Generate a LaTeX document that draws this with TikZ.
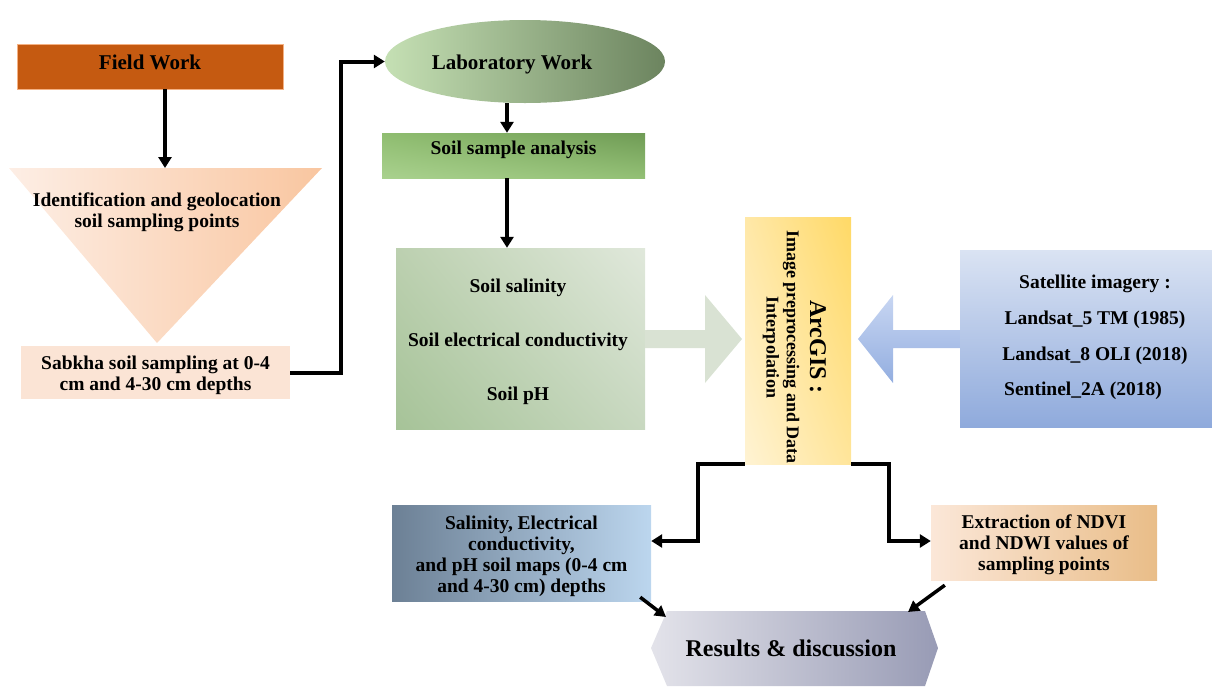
\documentclass[tikz,border=0pt]{standalone}
\usepackage{fontspec}
\setmainfont{Liberation Serif}
\usetikzlibrary{arrows.meta,shapes.geometric,calc,shadings}
\definecolor{fieldc}{HTML}{C55A11}
\definecolor{fieldb}{HTML}{F4B183}
\definecolor{triL}{HTML}{FDEEE5}
\definecolor{triR}{HTML}{F9C6A0}
\definecolor{sabc}{HTML}{FBE4D5}
\definecolor{labL}{HTML}{C5E0B4}
\definecolor{labR}{HTML}{6C845F}
\definecolor{ssaUL}{HTML}{8FBD70}
\definecolor{ssaUR}{HTML}{6F9B55}
\definecolor{ssaLL}{HTML}{A9D18E}
\definecolor{ssaLR}{HTML}{93C075}
\definecolor{bigUL}{HTML}{BCD0B0}
\definecolor{bigUR}{HTML}{E0E8DB}
\definecolor{bigLL}{HTML}{A6C398}
\definecolor{bigLR}{HTML}{C8D8C0}
\definecolor{arcUL}{HTML}{FFE8A8}
\definecolor{arcUR}{HTML}{FFD966}
\definecolor{arcLL}{HTML}{FFF3D3}
\definecolor{arcLR}{HTML}{FFE59A}
\definecolor{gshaft}{HTML}{D9E2D3}
\definecolor{blueT}{HTML}{C8D6F2}
\definecolor{blueB}{HTML}{93AEE0}
\definecolor{satT}{HTML}{DAE3F3}
\definecolor{satB}{HTML}{8FAADC}
\definecolor{salL}{HTML}{6C8095}
\definecolor{salR}{HTML}{BCD6EE}
\definecolor{extL}{HTML}{FBE7D8}
\definecolor{extR}{HTML}{E9BD88}
\definecolor{resL}{HTML}{E3E3EA}
\definecolor{resR}{HTML}{989BB5}
\begin{document}
\begin{tikzpicture}[x=1pt,y=-1pt,
  txt/.style={font=\fontsize{19.5}{21}\selectfont\bfseries, align=center},
  hdr/.style={font=\fontsize{21}{23}\selectfont\bfseries},
  boxn/.style={inner sep=0pt, minimum width=#1},
  arr/.style={line width=4pt, -{Triangle[length=11pt,width=13pt]}},
  arrs/.style={line width=3.5pt, -{Triangle[length=11pt,width=12pt]}}]
\useasboundingbox (0,0) rectangle (1212,686);

% Field work
\node[fill=fieldc, draw=fieldb, line width=0.6pt, boxn=266pt, minimum height=45pt] (field) at (150,66.5) {};
\node[hdr] (fieldt) at (150,62) {Field Work};

% Triangle
\shade[left color=triL, right color=triR] (9,168) -- (322,168) -- (157,343) -- cycle;
\node[txt] (ident) at (157,212) {Identification and geolocation\\soil sampling points};
\coordinate (tritop) at (165,168);
\draw[arr] (field.south -| tritop) -- (tritop);

% Sabkha
\node[fill=sabc, boxn=269pt, minimum height=53pt] (sab) at (155.5,372.5) {};
\node[txt] (sabt) at (155.5,375.5) {Sabkha soil sampling at 0-4\\cm and 4-30 cm depths};

% Lab work
\node[ellipse, boxn=280pt, minimum height=83pt, left color=labL, right color=labR] (lab) at (525,61.5) {};
\node[hdr] (labt) at (512,64.5) {Laboratory Work};
\draw[arr] (sab.east) -- ++(51,0) |- (lab.west);

% Soil sample analysis
\node[boxn=263pt, minimum height=45pt, upper left=ssaUL, upper right=ssaUR, lower left=ssaLL, lower right=ssaLR] (ssa) at (513.5,155.5) {};
\node[txt] (ssat) at (513.5,150) {Soil sample analysis};
\coordinate (c1) at (507,0);
\draw[arr] (lab.south -| c1) -- (ssa.north -| c1);

% Big box
\node[boxn=249pt, minimum height=181pt, upper left=bigUL, upper right=bigUR, lower left=bigLL, lower right=bigLR] (big) at (520.5,338.5) {};
\node[font=\fontsize{19.5}{54}\selectfont\bfseries, align=center] (bigt) at (518,341.5) {Soil salinity\\Soil electrical conductivity\\Soil pH};
\draw[arr] (ssa.south -| c1) -- (big.north -| c1);

% green block arrow
\fill[gshaft] (645,330) -- (705,330) -- (705,295) -- (742,339) -- (705,383) -- (705,348) -- (645,348) -- cycle;

% ArcGIS
\node[boxn=106pt, minimum height=247pt, upper left=arcUL, upper right=arcUR, lower left=arcLL, lower right=arcLR] (arc) at (798,340.5) {};
\node[rotate=-90, font=\fontsize{24}{26}\selectfont\bfseries] (arct1) at (818,347) {ArcGIS :};
\node[rotate=-90, font=\fontsize{18}{20}\selectfont\bfseries] (arct2) at (791,347) {Image preprocessing and Data};
\node[rotate=-90, font=\fontsize{18}{20}\selectfont\bfseries] (arct3) at (771,347) {Interpolation};

% blue block arrow
\shade[top color=blueT, bottom color=blueB] (960,330) -- (893,330) -- (893,295) -- (858,339) -- (893,383) -- (893,348) -- (960,348) -- cycle;

% Satellite
\node[boxn=252pt, minimum height=177pt, top color=satT, bottom color=satB] (sat) at (1086,338.5) {};
\node[txt, anchor=base] (s1) at (1095,288) {Satellite imagery :};
\node[txt, anchor=base] (s2) at (1095,324) {Landsat\_5 TM (1985)};
\node[txt, anchor=base] (s3) at (1095,360) {Landsat\_8 OLI (2018)};
\node[txt, anchor=base] (s4) at (1083,395) {Sentinel\_2A (2018)};

% bottom boxes
\node[boxn=259pt, minimum height=96pt, left color=salL, right color=salR] (sal) at (521.5,553) {};
\node[txt] (salt) at (521.5,556) {Salinity, Electrical\\conductivity,\\and pH soil maps (0-4 cm\\and 4-30 cm) depths};
\node[boxn=226pt, minimum height=75pt, left color=extL, right color=extR] (ext) at (1044,542.5) {};
\node[txt] (extt) at (1044,544.5) {Extraction of NDVI\\and NDWI values of\\sampling points};

\coordinate (yl) at (0,541);
\draw[arr] (arc.south west) -| (698,541) -- (sal.east |- yl);
\draw[arr] (arc.south east) -| (889,541) -- (ext.west |- yl);

% Results
\shade[left color=resL, right color=resR] (651,648) -- (667,611) -- (925,611) -- (938,648) -- (925,686) -- (667,686) -- cycle;
\coordinate (hexTL) at (667,611);
\coordinate (hexTR) at (925,611);
\node[font=\fontsize{24}{26}\selectfont\bfseries] (res) at (791,648) {Results \& discussion};
\draw[arrs] ([shift={(-11pt,4pt)}]sal.south east) -- ([shift={(-1pt,-6pt)}]hexTL);
\draw[arrs] ([shift={(14pt,-5pt)}]ext.south west) -- ([shift={(-17pt,-1pt)}]hexTR);
\end{tikzpicture}
\end{document}
